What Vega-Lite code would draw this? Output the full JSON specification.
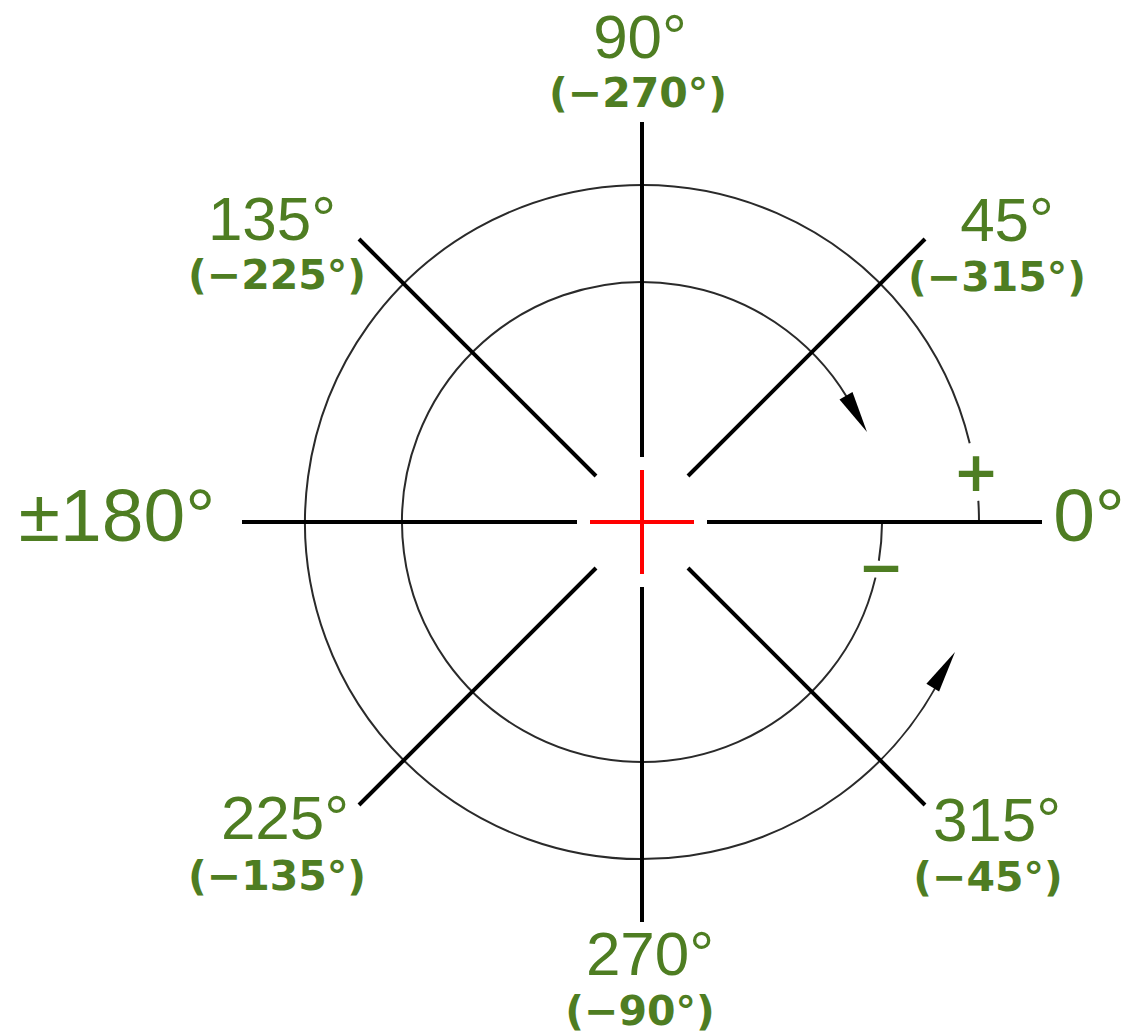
{
  "$schema": "https://vega.github.io/schema/vega-lite/v6.json",
  "width": 1128,
  "height": 1035,
  "padding": 0,
  "autosize": {"type": "fit", "contains": "padding"},
  "background": "white",
  "config": {"view": {"stroke": null}},
  "datasets": {
    "arcs": [
      {"x": 0, "y": 0, "r": 337, "from": 13.5, "to": 331},
      {"x": 0, "y": 0, "r": 337, "from": 0, "to": 3.6},
      {"x": 0, "y": 0, "r": 240, "from": 28, "to": 346.6},
      {"x": 0, "y": 0, "r": 240, "from": 350.7, "to": 359.5}
    ],
    "spokes": [
      {"x": 65, "y": 0, "x2": 400, "y2": 0},
      {"x": 46, "y": 46, "x2": 283, "y2": 283},
      {"x": 0, "y": 65, "x2": 0, "y2": 400},
      {"x": -46, "y": 46, "x2": -283, "y2": 283},
      {"x": -65, "y": 0, "x2": -400, "y2": 0},
      {"x": -46, "y": -46, "x2": -283, "y2": -283},
      {"x": 0, "y": -65, "x2": 0, "y2": -400},
      {"x": 46, "y": -46, "x2": 283, "y2": -283}
    ],
    "cross": [
      {"x": -52, "y": 0, "x2": 52, "y2": 0},
      {"x": 0, "y": -52, "x2": 0, "y2": 52}
    ],
    "arrows": [
      {"x": 225, "y": 90, "heading": 150},
      {"x": 313, "y": -130, "heading": 32}
    ],
    "labels": [
      {"x": -2, "y": 483, "text": "90°", "role": "main"},
      {"x": -370, "y": 301, "text": "135°", "role": "main"},
      {"x": 365, "y": 300, "text": "45°", "role": "main"},
      {"x": -357, "y": -298, "text": "225°", "role": "main"},
      {"x": 355, "y": -300, "text": "315°", "role": "main"},
      {"x": 8, "y": -434, "text": "270°", "role": "main"},
      {"x": -525, "y": 4, "text": "±180°", "role": "big"},
      {"x": 447, "y": 4, "text": "0°", "role": "big"},
      {"x": -4, "y": 427, "text": "(−270°)", "role": "alt"},
      {"x": -365, "y": 245, "text": "(−225°)", "role": "alt"},
      {"x": 355, "y": 243, "text": "(−315°)", "role": "alt"},
      {"x": -365, "y": -356, "text": "(−135°)", "role": "alt"},
      {"x": 346, "y": -357, "text": "(−45°)", "role": "alt"},
      {"x": -2, "y": -491, "text": "(−90°)", "role": "alt"},
      {"x": 334, "y": 48, "text": "+", "role": "sign"},
      {"x": 239, "y": -47, "text": "−", "role": "sign"}
    ]
  },
  "encoding": {
    "x": {"field": "x", "type": "quantitative", "axis": null, "scale": {"domain": [-642, 486], "nice": false, "zero": false}},
    "y": {"field": "y", "type": "quantitative", "axis": null, "scale": {"domain": [-513, 522], "nice": false, "zero": false}}
  },
  "layer": [
    {
      "data": {"name": "arcs"},
      "mark": {"type": "arc", "filled": false, "stroke": "#2a2a2a", "strokeWidth": 2},
      "encoding": {
        "theta": {"field": "from", "type": "quantitative", "stack": null, "scale": {"domain": [90, -270], "range": [0, 6.283185307179586], "zero": false, "nice": false}},
        "theta2": {"field": "to"},
        "radius": {"field": "r", "type": "quantitative", "scale": {"type": "linear", "domain": [0, 1000], "range": [0, 1000], "zero": true, "nice": false}},
        "radius2": {"field": "r"}
      }
    },
    {
      "data": {"name": "spokes"},
      "mark": {"type": "rule", "color": "#000000", "strokeWidth": 4},
      "encoding": {"x2": {"field": "x2"}, "y2": {"field": "y2"}}
    },
    {
      "data": {"name": "cross"},
      "mark": {"type": "rule", "color": "#ff0000", "strokeWidth": 4},
      "encoding": {"x2": {"field": "x2"}, "y2": {"field": "y2"}}
    },
    {
      "data": {"name": "arrows"},
      "mark": {"type": "point", "filled": true, "color": "#000000", "opacity": 1, "size": 400, "strokeWidth": 0, "shape": "M0,0L0.75,4.2L-0.75,4.2Z"},
      "encoding": {
        "angle": {"field": "heading", "type": "quantitative", "scale": {"domain": [0, 360], "range": [0, 360]}}
      }
    },
    {
      "data": {"name": "labels"},
      "transform": [{"filter": "datum.role === 'main'"}],
      "mark": {"type": "text", "font": "Liberation Sans", "fontSize": 62, "color": "#4e7d22", "align": "center", "baseline": "middle"},
      "encoding": {"text": {"field": "text"}}
    },
    {
      "data": {"name": "labels"},
      "transform": [{"filter": "datum.role === 'big'"}],
      "mark": {"type": "text", "font": "Liberation Sans", "fontSize": 75, "color": "#4e7d22", "align": "center", "baseline": "middle"},
      "encoding": {"text": {"field": "text"}}
    },
    {
      "data": {"name": "labels"},
      "transform": [{"filter": "datum.role === 'alt'"}],
      "mark": {"type": "text", "font": "DejaVu Sans", "fontWeight": "bold", "fontSize": 41, "color": "#4e7d22", "align": "center", "baseline": "middle"},
      "encoding": {"text": {"field": "text"}}
    },
    {
      "data": {"name": "labels"},
      "transform": [{"filter": "datum.role === 'sign'"}],
      "mark": {"type": "text", "font": "DejaVu Sans", "fontWeight": "bold", "fontSize": 55, "color": "#4e7d22", "align": "center", "baseline": "middle"},
      "encoding": {"text": {"field": "text"}}
    }
  ]
}
